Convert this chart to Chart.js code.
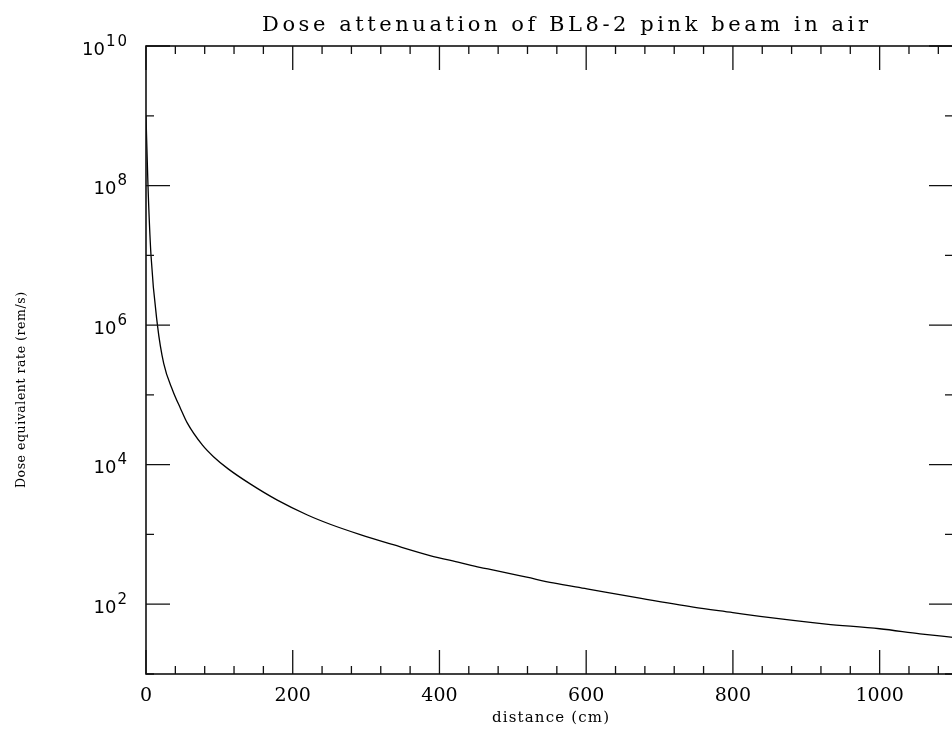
<!DOCTYPE html>
<html>
<head>
<meta charset="utf-8">
<script src="https://cdn.jsdelivr.net/npm/chart.js@4.4.1/dist/chart.umd.min.js"></script>
<style>
html, body { margin: 0; padding: 0; background: #fff; overflow: hidden; }
#wrap { width: 1000px; height: 730px; }
</style>
</head>
<body>
<div id="wrap"><canvas id="chartDose" width="1000" height="730"></canvas></div>
<script>
// values
const distanceCm = [0, 2.7, 6.8, 15.6, 24.2, 36.5, 47, 56, 77, 92, 112, 142, 179, 220, 251,
  292, 337, 387, 428, 455, 474, 519, 555, 601, 673, 746, 800, 837, 882, 927, 1000, 1055, 1100];
const doseRate = [1.0e9, 1.0e8, 1.0e7, 1.0e6, 2.8e5, 1.15e5, 6.4e4, 4.0e4, 1.9e4, 1.3e4, 8.7e3, 5.3e3, 3.1e3, 1.9e3, 1.4e3,
  995, 712, 499, 395, 338, 308, 244, 202, 166, 122, 91, 76, 67, 58.5, 52, 44.5, 37.7, 33.5];

const xTickValues = [0, 200, 400, 600, 800, 1000];
const xMinorStep = 40;
const yTickExponents = [2, 4, 6, 8, 10];
const yDecades = [1, 2, 3, 4, 5, 6, 7, 8, 9, 10];

const titleText = "Dose attenuation of BL8-2 pink beam in air";
const xTitle = "distance (cm)";
const yTitle = "Dose equivalent rate (rem/s)";

function spacingFor(ctx, text, font, target){
  ctx.font = font;
  ctx.letterSpacing = "0px";
  const w = ctx.measureText(text).width;
  return (target - w) / (text.length - 1);
}

function spacedText(ctx, text, font, x, y, target){
  const s = spacingFor(ctx, text, font, target);
  ctx.font = font;
  ctx.letterSpacing = s.toFixed(2) + "px";
  ctx.fillText(text, x, y);
  ctx.letterSpacing = "0px";
}

const framePlugin = {
  id: "frame",
  afterDraw(chart){
    const { ctx, chartArea: a, scales } = chart;
    const xs = scales.x, ys = scales.y;
    ctx.save();
    ctx.strokeStyle = "#111";
    ctx.lineWidth = 1.6;
    ctx.strokeRect(a.left, a.top, a.right - a.left, a.bottom - a.top);

    ctx.lineWidth = 1.3;
    ctx.beginPath();
    for (let v = 0; v <= xs.max; v += xMinorStep){
      const px = xs.getPixelForValue(v);
      const len = v % 200 === 0 ? 24 : 8;
      ctx.moveTo(px, a.bottom); ctx.lineTo(px, a.bottom - len);
      ctx.moveTo(px, a.top); ctx.lineTo(px, a.top + len);
    }
    yDecades.forEach(e => {
      const py = ys.getPixelForValue(Math.pow(10, e));
      const len = e % 2 === 0 ? 24 : 8;
      ctx.moveTo(a.left, py); ctx.lineTo(a.left + len, py);
      ctx.moveTo(a.right, py); ctx.lineTo(a.right - len, py);
    });
    ctx.stroke();

    ctx.fillStyle = "#000";
    ctx.textBaseline = "alphabetic";

    // y tick labels, 10 with a raised exponent
    ctx.textAlign = "left";
    yTickExponents.forEach(e => {
      const py = ys.getPixelForValue(Math.pow(10, e));
      const expStr = String(e);
      ctx.font = "15px 'DejaVu Sans'";
      ctx.letterSpacing = "2px";
      const ew = ctx.measureText(expStr).width;
      const ex = 129 - ew;
      ctx.fillText(expStr, ex, py - 0.5);
      ctx.letterSpacing = "0px";
      ctx.font = "18px 'DejaVu Sans'";
      const bw = ctx.measureText("10").width;
      ctx.fillText("10", ex - 1 - bw, py + 8.5);
    });

    // title
    spacedText(ctx, titleText, "21px 'DejaVu Serif'", 262, 31, 606);

    // x axis title
    spacedText(ctx, xTitle, "15px 'DejaVu Serif'", 492, 722, 117);

    // y axis title, reading upward
    ctx.translate(25, 488);
    ctx.rotate(-Math.PI / 2);
    spacedText(ctx, yTitle, "12.5px 'DejaVu Serif'", 0, 0, 196);
    ctx.restore();
  }
};

new Chart(document.getElementById("chartDose"), {
  type: "line",
  data: {
    datasets: [{
      data: distanceCm.map((x, i) => ({ x, y: doseRate[i] })),
      borderColor: "#000",
      borderWidth: 1.3,
      pointRadius: 0,
      fill: false,
      cubicInterpolationMode: "monotone"
    }]
  },
  options: {
    responsive: false,
    animation: false,
    devicePixelRatio: 1,
    layout: { padding: { left: 0, right: 47, top: 46, bottom: 0 } },
    plugins: { legend: { display: false }, title: { display: false }, tooltip: { enabled: false } },
    scales: {
      x: {
        type: "linear", min: 0, max: 1100,
        grid: { display: false, drawTicks: false },
        border: { display: false },
        afterBuildTicks: s => { s.ticks = xTickValues.map(v => ({ value: v })); },
        ticks: {
          color: "#000", font: { family: "DejaVu Serif", size: 19 },
          padding: 11, maxRotation: 0, autoSkip: false,
          callback: v => String(v)
        },
        afterFit: s => { s.height = 56; }
      },
      y: {
        type: "logarithmic", min: 10, max: 1e10,
        grid: { display: false, drawTicks: false },
        border: { display: false },
        ticks: { display: false },
        afterFit: s => { s.width = 146; }
      }
    }
  },
  plugins: [framePlugin]
});
</script>
</body>
</html>
